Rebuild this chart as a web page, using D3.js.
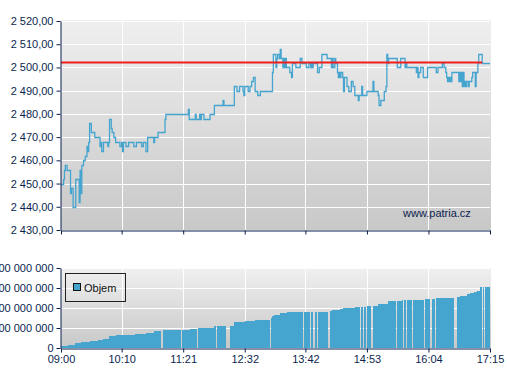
<!DOCTYPE html>
<html lang="cs">
<head>
<meta charset="utf-8">
<title>Intraday chart</title>
<script src="https://cdn.jsdelivr.net/npm/d3@7"></script>
<style>
  body { margin: 0; background: #fff; }
  text { font-family: Arial, "Liberation Sans", sans-serif; }
</style>
</head>
<body>
<script>
// price steps: [time, price]
var priceData = [
  ["09:00",2450],["09:03",2452],["09:04",2456],["09:05",2458],["09:07",2456],["09:11",2446],["09:12",2448],
  ["09:14",2440],["09:17",2452],["09:21",2442],["09:22",2456],["09:23",2446],["09:24",2458],["09:26",2460],
  ["09:28",2462],["09:30",2466],["09:31",2464],["09:32",2468],["09:33",2476],["09:35",2472],["09:39",2470],
  ["09:45",2466],["09:46",2468],["09:47",2464],["09:49",2468],["09:54",2466],["09:55",2468],["09:56",2478],
  ["09:58",2474],["09:59",2472],["10:01",2470],["10:03",2468],["10:08",2466],["10:10",2468],["10:11",2464],
  ["10:12",2468],["10:15",2466],["10:18",2468],["10:24",2466],["10:27",2468],["10:33",2466],["10:35",2468],
  ["10:38",2464],["10:40",2470],["10:47",2468],["10:48",2470],["10:52",2472],["11:00",2478],["11:01",2480],
  ["11:27",2482],["11:28",2478],["11:35",2480],["11:36",2478],["11:40",2480],["11:41",2478],["11:42",2480],
  ["11:45",2478],["11:52",2480],["11:57",2484],["12:07",2486],["12:08",2484],["12:20",2492],["12:23",2490],
  ["12:26",2492],["12:30",2490],["12:31",2488],["12:32",2492],["12:36",2490],["12:38",2492],["12:40",2494],
  ["12:42",2496],["12:44",2490],["12:47",2488],["12:50",2490],["13:04",2498],["13:05",2506],["13:08",2500],
  ["13:09",2504],["13:10",2506],["13:12",2504],["13:13",2508],["13:14",2504],["13:16",2500],["13:17",2504],
  ["13:18",2500],["13:19",2504],["13:20",2500],["13:24",2498],["13:26",2496],["13:27",2502],["13:31",2500],
  ["13:36",2504],["13:38",2502],["13:43",2500],["13:46",2502],["13:48",2500],["13:49",2502],["13:50",2500],
  ["13:51",2502],["13:56",2498],["13:58",2500],["14:01",2506],["14:07",2504],["14:12",2500],["14:13",2504],
  ["14:14",2500],["14:16",2504],["14:17",2502],["14:19",2498],["14:20",2496],["14:21",2498],["14:22",2496],
  ["14:23",2498],["14:25",2496],["14:26",2490],["14:27",2496],["14:30",2492],["14:32",2490],["14:35",2494],
  ["14:37",2492],["14:39",2488],["14:43",2486],["14:44",2488],["14:47",2492],["14:48",2488],["14:53",2490],
  ["15:00",2494],["15:01",2490],["15:06",2488],["15:07",2484],["15:09",2486],["15:13",2490],["15:15",2492],
  ["15:16",2506],["15:17",2502],["15:18",2504],["15:28",2500],["15:32",2504],["15:37",2500],["15:38",2502],
  ["15:39",2500],["15:50",2498],["15:51",2500],["15:52",2496],["15:53",2498],["15:55",2500],["15:58",2496],
  ["16:03",2500],["16:13",2498],["16:15",2500],["16:20",2502],["16:22",2500],["16:24",2498],["16:25",2496],
  ["16:26",2494],["16:27",2496],["16:28",2494],["16:29",2496],["16:30",2494],["16:31",2498],["16:39",2494],
  ["16:40",2498],["16:41",2494],["16:42",2498],["16:43",2492],["16:44",2498],["16:45",2492],["16:46",2494],
  ["16:47",2492],["16:48",2494],["16:50",2492],["16:51",2494],["16:54",2496],["16:55",2498],["16:58",2492],
  ["16:59",2498],["17:01",2502],["17:02",2506],["17:06",2502],["17:15",2502]
];

// reference (previous close) level
var refPrice = 2502;

// cumulative volume steps in millions: [time, value], null = no bar
var volumeData = [
  ["09:00",11],["09:08",17],["09:16",23],["09:23",28],["09:33",33],["09:43",38],["09:49",45],["09:55",58],
  ["10:03",63],["10:11",67],["10:25",72],["10:38",77],["10:47",83],["10:55",null],["10:58",88],["11:04",91],
  ["11:06",92],["11:19",null],["11:20",92],["11:29",96],["11:37",null],["11:38",101],["11:57",111],["11:59",null],
  ["12:00",111],["12:10",null],["12:15",111],["12:20",131],["12:32",136],["12:44",141],["13:01",null],["13:02",150],
  ["13:04",161],["13:06",166],["13:13",175],["13:21",178],["13:34",181],["13:39",null],["13:40",181],["13:47",null],
  ["13:49",181],["13:51",null],["13:53",181],["13:55",null],["13:56",181],["14:08",null],["14:10",186],["14:13",191],
  ["14:22",196],["14:25",201],["14:39",206],["14:45",null],["14:46",206],["14:49",null],["14:50",206],["14:52",null],
  ["14:53",211],["14:58",null],["15:00",211],["15:06",221],["15:17",236],["15:26",null],["15:28",236],["15:33",241],
  ["15:35",null],["15:36",241],["15:38",null],["15:39",241],["15:45",null],["15:46",241],["15:59",null],["16:00",245],
  ["16:06",null],["16:08",246],["16:11",null],["16:13",248],["16:21",251],["16:34",null],["16:37",253],["16:40",258],
  ["16:49",270],["16:52",275],["16:56",278],["17:00",283],["17:03",291],["17:04",306],["17:06",null],["17:07",306],
  ["17:08",null],["17:09",306],["17:11",null],["17:12",306]
];

var timeTicks = ["09:00","10:10","11:21","12:32","13:42","14:53","16:04","17:15"];
var priceTicks = [2430, 2440, 2450, 2460, 2470, 2480, 2490, 2500, 2510, 2520];
var volumeTicks = [0, 100e6, 200e6, 300e6, 400e6];
var legendLabel = "Objem";
var watermark = "www.patria.cz";

var w = 507, h = 380;
var navy = "#0b1f4f", blue = "#46a5cf", red = "#f01e1e";

var parse = d3.timeParse("%H:%M");
var cz = d3.formatLocale({decimal: ",", thousands: " ", grouping: [3], currency: ["", " Kč"]});
var fmtPrice = cz.format(",.2f");
var fmtVol = cz.format(",d");

var svg = d3.select("body").append("svg")
  .attr("width", w).attr("height", h);

var defs = svg.append("defs");
function grad(id, c1, c2) {
  var g = defs.append("linearGradient").attr("id", id)
    .attr("x1", 0).attr("y1", 0).attr("x2", 0).attr("y2", 1);
  g.append("stop").attr("offset", 0).attr("stop-color", c1);
  g.append("stop").attr("offset", 1).attr("stop-color", c2);
}
grad("bgTop", "#efefef", "#c8c8c8");
grad("bgBot", "#f0f0f0", "#c8c8c8");

var x = d3.scaleTime()
  .domain([parse("09:00"), parse("17:15")])
  .range([61, 490]);

var yP = d3.scaleLinear().domain([2430, 2520]).range([230, 21]);
var yV = d3.scaleLinear().domain([0, 400e6]).range([348, 268]);

//----- price panel -----
var priceG = svg.append("g");
priceG.append("rect").attr("x", 61).attr("y", 20).attr("width", 430).attr("height", 210)
  .attr("fill", "url(#bgTop)");

priceG.selectAll(".hg").data(priceTicks.slice(1)).enter().append("line")
  .attr("x1", 61).attr("x2", 490)
  .attr("y1", function(d) { return Math.round(yP(d)) + 0.5; })
  .attr("y2", function(d) { return Math.round(yP(d)) + 0.5; })
  .attr("stroke", "#fff");
priceG.selectAll(".vg").data(timeTicks.slice(1, -1)).enter().append("line")
  .attr("y1", 20).attr("y2", 230)
  .attr("x1", function(d) { return Math.round(x(parse(d))) + 0.5; })
  .attr("x2", function(d) { return Math.round(x(parse(d))) + 0.5; })
  .attr("stroke", "#fff");

priceG.append("text").attr("x", 403).attr("y", 217)
  .attr("font-size", 11).attr("fill", navy).text(watermark);

var stepLine = d3.line()
  .curve(d3.curveStepAfter)
  .x(function(d) { return x(parse(d[0])); })
  .y(function(d) { return Math.round(yP(d[1])) + 0.5; });

priceG.append("path").datum(priceData)
  .attr("d", stepLine)
  .attr("fill", "none")
  .attr("stroke", blue)
  .attr("stroke-width", 1.3);

// previous close, drawn up to the last trade
var lastTrade = priceData[priceData.length - 2][0];
priceG.append("rect")
  .attr("x", 61)
  .attr("y", Math.round(yP(refPrice)) - 1.5)
  .attr("width", x(parse(lastTrade)) - 61)
  .attr("height", 2)
  .attr("fill", red);

var axP = priceG.append("g").attr("transform", "translate(60.5,0)")
  .call(d3.axisLeft(yP).tickValues(priceTicks).tickFormat(fmtPrice).tickSize(4).tickSizeOuter(0).tickPadding(3));
var axPx = priceG.append("g").attr("transform", "translate(0,230.5)")
  .call(d3.axisBottom(x).tickValues(timeTicks.map(parse)).tickFormat("").tickSize(4).tickSizeOuter(0));

//----- volume panel -----
var volG = svg.append("g");
volG.append("rect").attr("x", 61).attr("y", 268).attr("width", 430).attr("height", 80)
  .attr("fill", "url(#bgBot)");

volG.selectAll(".hg").data(volumeTicks.slice(1)).enter().append("line")
  .attr("x1", 61).attr("x2", 490)
  .attr("y1", function(d) { return Math.round(yV(d)) + 0.5; })
  .attr("y2", function(d) { return Math.round(yV(d)) + 0.5; })
  .attr("stroke", "#fff");
volG.selectAll(".vg").data(timeTicks.slice(1, -1)).enter().append("line")
  .attr("y1", 268).attr("y2", 348)
  .attr("x1", function(d) { return Math.round(x(parse(d))) + 0.5; })
  .attr("x2", function(d) { return Math.round(x(parse(d))) + 0.5; })
  .attr("stroke", "#fff");

var bars = volumeData.map(function(d, i) {
  var next = i < volumeData.length - 1 ? volumeData[i + 1][0] : "17:15";
  return {t0: parse(d[0]), t1: parse(next), v: d[1]};
}).filter(function(d) { return d.v !== null; });

volG.selectAll(".bar").data(bars).enter().append("rect")
  .attr("x", function(d) { return Math.round(x(d.t0)); })
  .attr("width", function(d) { return Math.max(1, Math.round(x(d.t1)) - Math.round(x(d.t0))); })
  .attr("y", function(d) { return Math.round(yV(d.v * 1e6)); })
  .attr("height", function(d) { return 348 - Math.round(yV(d.v * 1e6)); })
  .attr("fill", blue)
  .attr("shape-rendering", "crispEdges");

var axV = volG.append("g").attr("transform", "translate(60.5,0)")
  .call(d3.axisLeft(yV).tickValues(volumeTicks).tickFormat(fmtVol).tickSize(4).tickSizeOuter(0).tickPadding(3));
var axVx = volG.append("g").attr("transform", "translate(0,348.5)")
  .call(d3.axisBottom(x).tickValues(timeTicks.map(parse)).tickFormat(d3.timeFormat("%H:%M")).tickSize(4).tickSizeOuter(0).tickPadding(3));

[axP, axPx, axV, axVx].forEach(function(a) {
  a.selectAll("path, line").attr("stroke", navy);
  a.selectAll("text").attr("fill", navy).attr("font-size", 11)
    .attr("font-family", "Arial, 'Liberation Sans', sans-serif");
});

// legend
var lg = volG.append("g");
lg.append("rect").attr("x", 65.5).attr("y", 273.5).attr("width", 60).attr("height", 28)
  .attr("fill", "none").attr("stroke", "#222");
lg.append("rect").attr("x", 73.5).attr("y", 283.5).attr("width", 7).attr("height", 7)
  .attr("fill", blue).attr("stroke", "#111");
lg.append("text").attr("x", 84).attr("y", 291.5).attr("font-size", 11).attr("fill", "#111").text(legendLabel);
</script>
</body>
</html>
